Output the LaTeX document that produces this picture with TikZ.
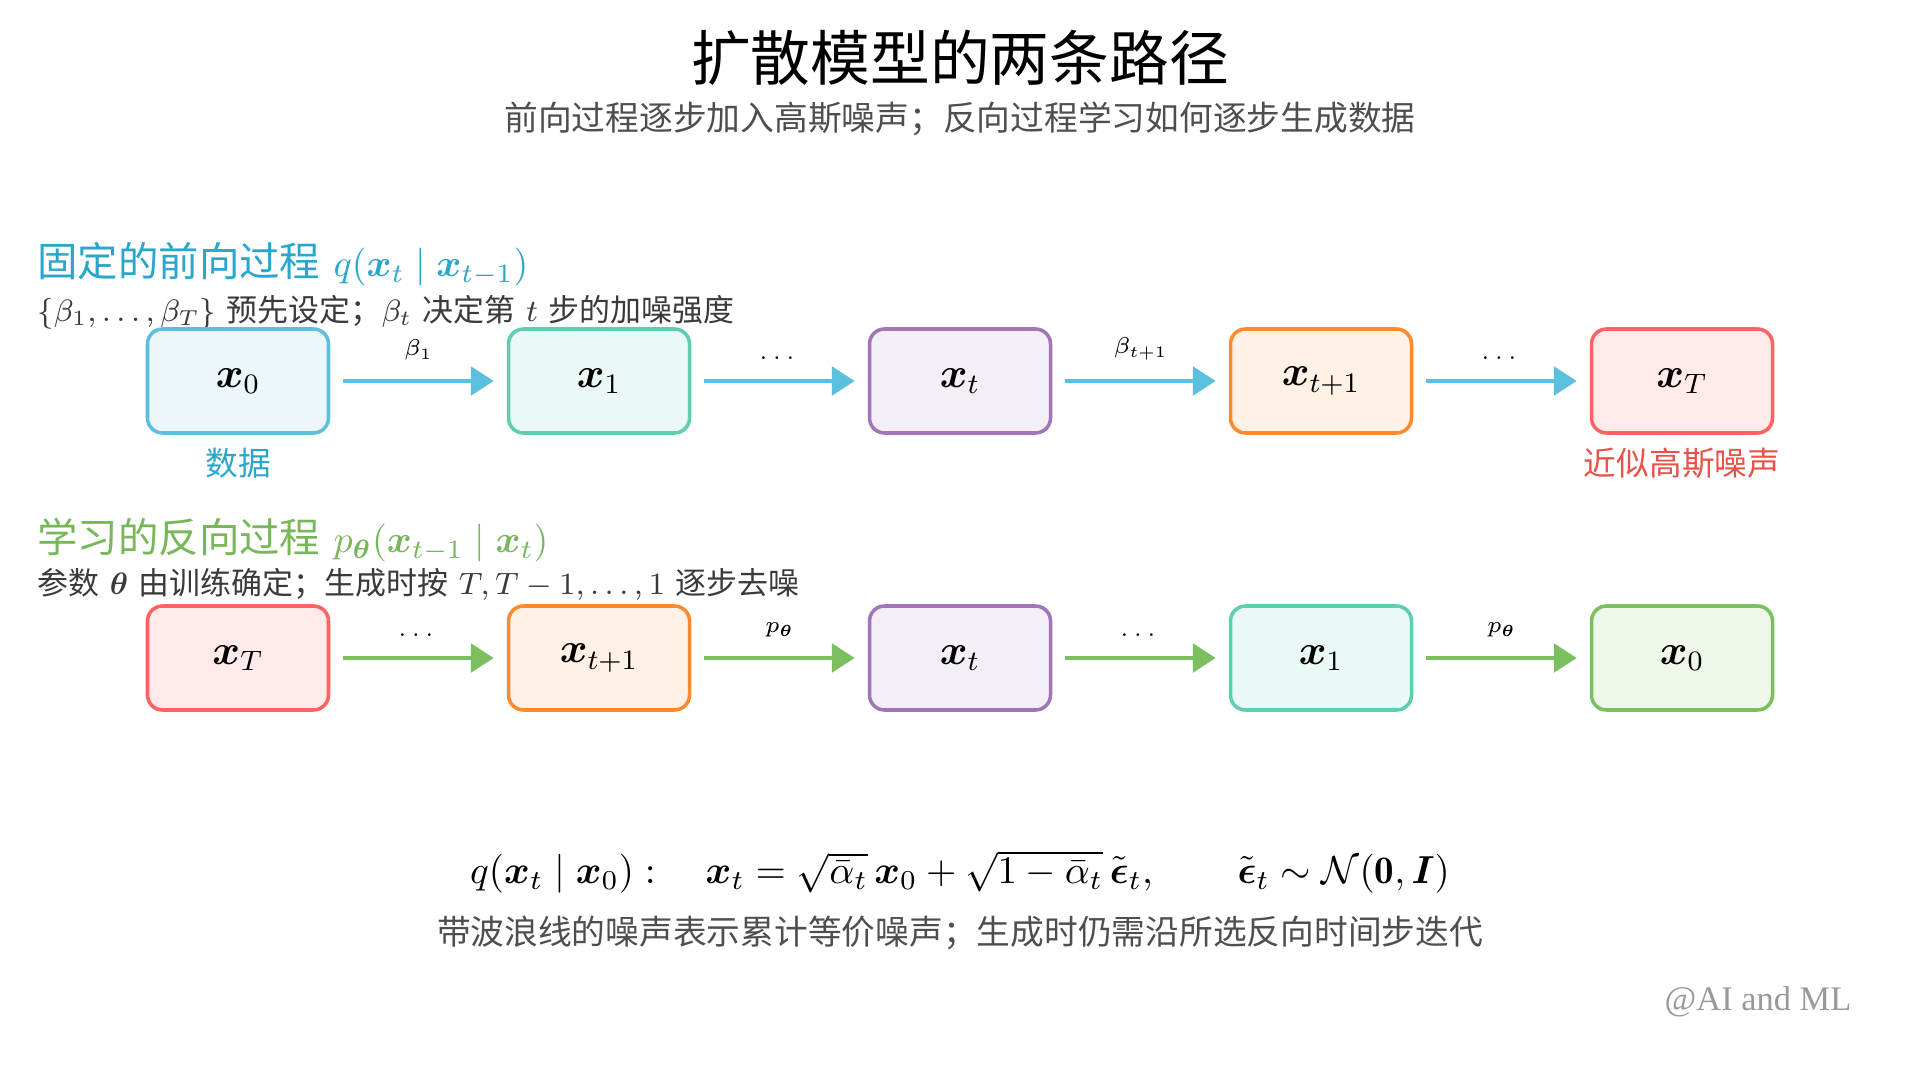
\RequirePackage{fix-cm}
\documentclass[tikz,border=0pt]{standalone}
\usepackage{amsmath,amssymb}
\usepackage{fontspec}
\newfontfamily\cjk{Noto Sans CJK SC}
\newfontfamily\markfont{Liberation Serif}
\usetikzlibrary{arrows.meta}

\definecolor{fwdblue}{HTML}{5BC0DE}
\definecolor{headblue}{HTML}{2AA6CC}
\definecolor{revgreen}{HTML}{7CBF5E}
\definecolor{headgreen}{HTML}{78B65A}
\definecolor{mint}{HTML}{5CCFB0}
\definecolor{violet}{HTML}{A274B8}
\definecolor{tangerine}{HTML}{FF8A2E}
\definecolor{coral}{HTML}{FF6262}
\definecolor{noisered}{HTML}{E8524A}
\definecolor{inkgray}{HTML}{3A3A3A}

\tikzset{
    statebox/.style={
        rounded corners=0.15cm, line width=1pt,
        minimum width=1.81cm, minimum height=1.04cm,
        font=\fontsize{12}{14}\selectfont
    },
    databox/.style={statebox, draw=fwdblue, fill=fwdblue!12},
    onebox/.style={statebox, draw=mint, fill=mint!12},
    midbox/.style={statebox, draw=violet, fill=violet!12},
    nextbox/.style={statebox, draw=tangerine, fill=tangerine!12},
    noisebox/.style={statebox, draw=coral, fill=coral!14},
    cleanbox/.style={statebox, draw=revgreen, fill=revgreen!13},
    fwdarrow/.style={
        draw=fwdblue, line width=1.4pt,
        -{Triangle[length=6.5pt, width=8pt]},
        shorten <=0.13cm, shorten >=0.13cm
    },
    revarrow/.style={fwdarrow, draw=revgreen},
    steplabel/.style={above=0.07cm, font=\fontsize{6.5}{8}\selectfont, text=black}
}

\begin{document}
\begin{tikzpicture}

    \useasboundingbox[fill=white] (0,0) rectangle (19.2,-10.8);

    % titles
    \node (title) at (9.6,-0.58)
        {\cjk\fontsize{17}{20}\selectfont 扩散模型的两条路径};
    \node[text=inkgray!90] (subtitle) at (9.6,-1.19)
        {\cjk\fontsize{9.6}{12}\selectfont 前向过程逐步加入高斯噪声；反向过程学习如何逐步生成数据};

    % forward chain
    \node[anchor=west, text=headblue, font=\fontsize{11.5}{14}\selectfont] (fwdhead) at (0.25,-2.64)
        {{\cjk 固定的前向过程} {\fontsize{10.8}{13}\selectfont$q(\boldsymbol{x}_t \mid \boldsymbol{x}_{t-1})$}};
    \node[anchor=west, text=inkgray, font=\fontsize{8.8}{11}\selectfont] (fwdnote) at (0.25,-3.12)
        {$\{\beta_1,\dots,\beta_T\}$ {\cjk 预先设定；}$\beta_t$ {\cjk 决定第} $t$ {\cjk 步的加噪强度}};

    \node[databox] (f0) at (2.38,-3.81) {$\boldsymbol{x}_0$};
    \node[onebox] (f1) at (5.99,-3.81) {$\boldsymbol{x}_1$};
    \node[midbox] (ft) at (9.60,-3.81) {$\boldsymbol{x}_t$};
    \node[nextbox] (fn) at (13.21,-3.81) {$\boldsymbol{x}_{t+1}$};
    \node[noisebox] (fT) at (16.82,-3.81) {$\boldsymbol{x}_T$};

    \draw[fwdarrow] (f0) -- node[steplabel] {$\beta_1$} (f1);
    \draw[fwdarrow] (f1) -- node[steplabel] {$\dots$} (ft);
    \draw[fwdarrow] (ft) -- node[steplabel] {$\beta_{t+1}$} (fn);
    \draw[fwdarrow] (fn) -- node[steplabel] {$\dots$} (fT);

    \node[text=headblue] (datalabel) at (2.38,-4.63)
        {\cjk\fontsize{9.3}{11}\selectfont 数据};
    \node[text=noisered] (noiselabel) at (16.82,-4.63)
        {\cjk\fontsize{9.3}{11}\selectfont 近似高斯噪声};

    % reverse chain
    \node[anchor=west, text=headgreen, font=\fontsize{11.5}{14}\selectfont] (revhead) at (0.25,-5.40)
        {{\cjk 学习的反向过程} {\fontsize{10.8}{13}\selectfont$p_{\boldsymbol{\theta}}(\boldsymbol{x}_{t-1} \mid \boldsymbol{x}_t)$}};
    \node[anchor=west, text=inkgray, font=\fontsize{8.8}{11}\selectfont] (revnote) at (0.25,-5.84)
        {{\cjk 参数} $\boldsymbol{\theta}$ {\cjk 由训练确定；生成时按} $T, T-1, \dots, 1$ {\cjk 逐步去噪}};

    \node[noisebox] (rT) at (2.38,-6.58) {$\boldsymbol{x}_T$};
    \node[nextbox] (rn) at (5.99,-6.58) {$\boldsymbol{x}_{t+1}$};
    \node[midbox] (rt) at (9.60,-6.58) {$\boldsymbol{x}_t$};
    \node[onebox] (r1) at (13.21,-6.58) {$\boldsymbol{x}_1$};
    \node[cleanbox] (r0) at (16.82,-6.58) {$\boldsymbol{x}_0$};

    \draw[revarrow] (rT) -- node[steplabel] {$\dots$} (rn);
    \draw[revarrow] (rn) -- node[steplabel] {$p_{\boldsymbol{\theta}}$} (rt);
    \draw[revarrow] (rt) -- node[steplabel] {$\dots$} (r1);
    \draw[revarrow] (r1) -- node[steplabel] {$p_{\boldsymbol{\theta}}$} (r0);

    % closed form
    \node[font=\fontsize{11.1}{13}\selectfont] (closedform) at (9.6,-8.72)
        {$q(\boldsymbol{x}_t \mid \boldsymbol{x}_0):\quad
          \boldsymbol{x}_t = \sqrt{\bar{\alpha}_t}\,\boldsymbol{x}_0 + \sqrt{1-\bar{\alpha}_t}\,\tilde{\boldsymbol{\epsilon}}_t,
          \qquad \tilde{\boldsymbol{\epsilon}}_t \sim \mathcal{N}(\mathbf{0}, \boldsymbol{I})$};
    \node[text=inkgray!90] (caption) at (9.6,-9.33)
        {\cjk\fontsize{9.6}{12}\selectfont 带波浪线的噪声表示累计等价噪声；生成时仍需沿所选反向时间步迭代};

    \node[text=black!40] (watermark) at (17.58,-10.02)
        {\markfont\fontsize{9.8}{12}\selectfont @AI and ML};

\end{tikzpicture}
\end{document}
